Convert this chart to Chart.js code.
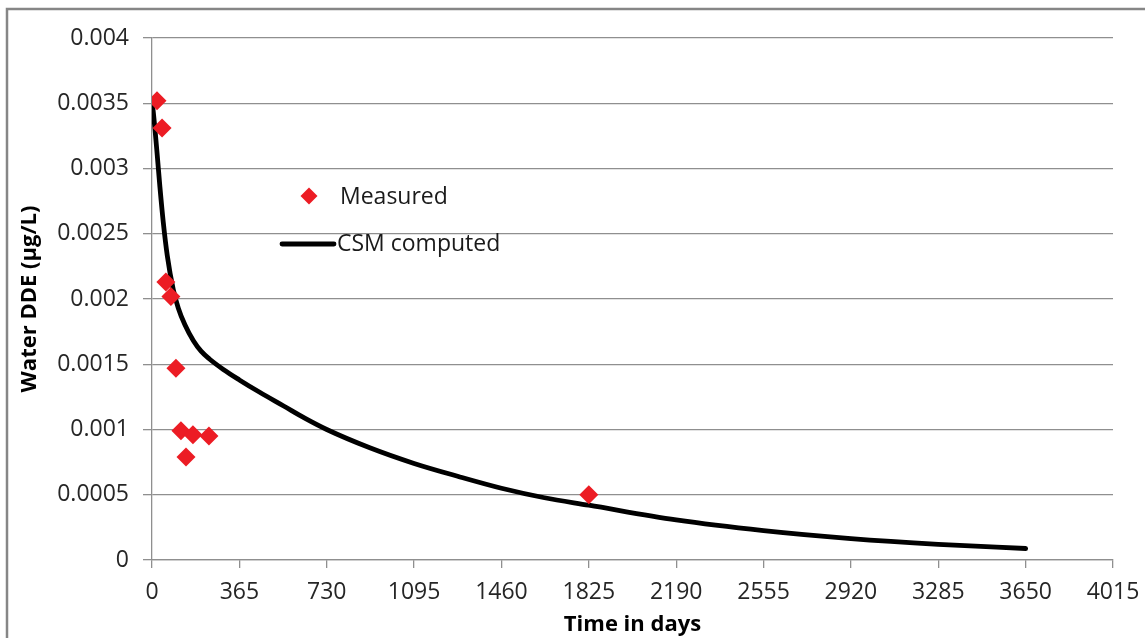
<!DOCTYPE html>
<html>
<head>
<meta charset="utf-8">
<script src="https://cdn.jsdelivr.net/npm/chart.js@4.4.1/dist/chart.umd.min.js"></script>
<style>
html,body{margin:0;padding:0;background:#fff;}
canvas{display:block;}
</style>
</head>
<body>
<canvas id="c" width="1145" height="638"></canvas>
<script>
// Measured points (days, µg/L)
const measuredDays = [21, 42, 58, 79, 100, 121, 142, 171, 238, 1825];
const measuredValues = [0.00352, 0.00331, 0.00213, 0.00202, 0.00147, 0.00099, 0.00079, 0.00096, 0.00095, 0.00050];
// CSM computed curve (days, µg/L)
const computedDays = [0, 5, 12, 22, 33, 47, 64, 89, 110, 138, 173, 205, 240, 298, 365, 450, 550, 640, 730, 910, 1095, 1280, 1460, 1640, 1825, 2190, 2555, 2920, 3285, 3650];
const computedValues = [0.00352, 0.00344, 0.00331, 0.00310, 0.00286, 0.00259, 0.00233, 0.00207, 0.00193, 0.00180, 0.00168, 0.00160, 0.00154, 0.00146, 0.00138, 0.001285, 0.00118, 0.001085, 0.00100, 0.00086, 0.00074, 0.00064, 0.00055, 0.000477, 0.00042, 0.000307, 0.000225, 0.000164, 0.00012, 0.000088];
// Tick labels
const xTickLabels = ['0','365','730','1095','1460','1825','2190','2555','2920','3285','3650','4015'];
const yTickLabels = ['0','0.0005','0.001','0.0015','0.002','0.0025','0.003','0.0035','0.004'];
const seriesNames = ['Measured', 'CSM computed'];

const FONT = '"Open Sans", "Liberation Sans", sans-serif';
const GRID = '#8f8f8f';
const RED = '#EC1C24';

const framePlugin = {
  id: 'frame',
  beforeDraw(chart) {
    const ctx = chart.ctx;
    ctx.save();
    ctx.fillStyle = '#fff';
    ctx.fillRect(0, 0, chart.width, chart.height);
    ctx.strokeStyle = '#868686';
    ctx.lineWidth = 2.5;
    ctx.beginPath();
    ctx.moveTo(7, chart.height);
    ctx.lineTo(7, 9);
    ctx.lineTo(chart.width, 9);
    ctx.stroke();
    ctx.restore();
  }
};

const legendPlugin = {
  id: 'innerLegend',
  afterDatasetsDraw(chart) {
    const ctx = chart.ctx;
    const a = chart.chartArea;
    ctx.save();
    ctx.font = '23px ' + FONT;
    ctx.textBaseline = 'middle';
    ctx.textAlign = 'left';
    // Measured marker
    const mx = a.left + 157, my = a.top + 158, r = 8.5;
    ctx.fillStyle = RED;
    ctx.beginPath();
    ctx.moveTo(mx, my - r); ctx.lineTo(mx + r, my); ctx.lineTo(mx, my + r); ctx.lineTo(mx - r, my);
    ctx.closePath(); ctx.fill();
    ctx.fillStyle = '#1a1a1a';
    ctx.fillText(seriesNames[0], a.left + 188, my + 1);
    // CSM line
    const ly = a.top + 206;
    ctx.strokeStyle = '#000';
    ctx.lineWidth = 4.8;
    ctx.lineCap = 'round';
    ctx.beginPath();
    ctx.moveTo(a.left + 130, ly); ctx.lineTo(a.left + 182, ly);
    ctx.stroke();
    ctx.fillText(seriesNames[1], a.left + 185, ly);
    ctx.restore();
  }
};

new Chart(document.getElementById('c'), {
  type: 'scatter',
  data: {
    datasets: [
      {
        label: seriesNames[0],
        data: measuredDays.map((d, i) => ({x: d, y: measuredValues[i]})),
        pointStyle: 'rectRot',
        pointRadius: 9.5,
        backgroundColor: RED,
        borderColor: RED,
        borderWidth: 0,
        showLine: false
      },
      {
        label: seriesNames[1],
        data: computedDays.map((d, i) => ({x: d, y: computedValues[i]})),
        showLine: true,
        borderColor: '#000',
        borderWidth: 4.8,
        borderCapStyle: 'round',
        borderJoinStyle: 'round',
        pointRadius: 0,
        cubicInterpolationMode: 'monotone',
        fill: false
      }
    ]
  },
  options: {
    responsive: false,
    animation: false,
    layout: { padding: { left: 0, right: 32, top: 38, bottom: 0 } },
    plugins: {
      legend: { display: false },
      tooltip: { enabled: false }
    },
    scales: {
      x: {
        type: 'linear',
        min: 0, max: 4015,
        afterFit(s) { s.height = 78; s.paddingLeft = 0; s.paddingRight = 0; },
        ticks: {
          stepSize: 365,
          padding: 11,
          color: '#262626',
          font: { family: FONT, size: 23 },
          maxRotation: 0,
          autoSkip: false,
          callback: (v, i) => xTickLabels[i] !== undefined ? xTickLabels[i] : String(v)
        },
        grid: { drawOnChartArea: false, drawTicks: true, tickLength: 8, color: GRID, lineWidth: 1.3 },
        border: { display: true, color: GRID, width: 1.3 },
        title: {
          display: true, text: 'Time in days', color: '#000',
          font: { family: FONT, size: 22, weight: 'bold' },
          padding: { top: 0, bottom: 0 }
        }
      },
      y: {
        min: 0, max: 0.004,
        afterFit(s) { s.width = 152; s.paddingTop = 0; s.paddingBottom = 0; },
        ticks: {
          stepSize: 0.0005,
          padding: 14,
          color: '#262626',
          font: { family: FONT, size: 23 },
          callback: (v, i) => yTickLabels[i] !== undefined ? yTickLabels[i] : String(v)
        },
        grid: { drawOnChartArea: true, drawTicks: true, tickLength: 9, color: GRID, lineWidth: 1.3 },
        border: { display: true, color: GRID, width: 1.3 },
        title: {
          display: true, text: 'Water DDE (µg/L)', color: '#000',
          font: { family: FONT, size: 22, weight: 'bold' },
          padding: { top: 17, bottom: 0 }
        }
      }
    }
  },
  plugins: [framePlugin, legendPlugin]
});
</script>
</body>
</html>
